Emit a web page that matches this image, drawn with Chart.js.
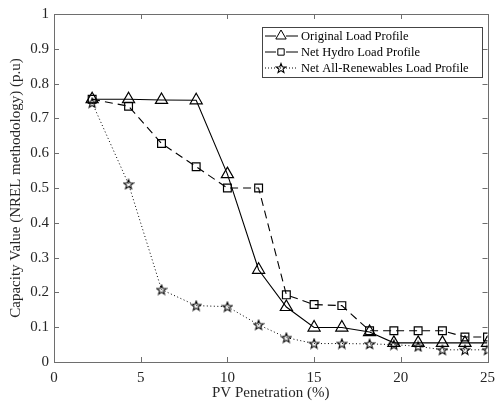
<!DOCTYPE html>
<html>
<head>
<meta charset="utf-8">
<script src="https://cdn.jsdelivr.net/npm/chart.js@4.4.1/dist/chart.umd.min.js"></script>
<style>
html, body { margin: 0; padding: 0; background: #fff; }
</style>
</head>
<body>
<canvas id="myChart" width="502" height="408"></canvas>
<script>
// PV penetration levels (%)
var penetration = [2.2, 4.3, 6.2, 8.2, 10, 11.8, 13.4, 15, 16.6, 18.2, 19.6, 21, 22.4, 23.7, 25];
// capacity values (p.u)
var originalLoad = [0.755, 0.755, 0.753, 0.752, 0.54, 0.265, 0.158, 0.099, 0.099, 0.086, 0.055, 0.055, 0.055, 0.055, 0.055];
var netHydro = [0.755, 0.735, 0.628, 0.561, 0.50, 0.50, 0.193, 0.165, 0.162, 0.09, 0.09, 0.09, 0.09, 0.072, 0.072];
var netAllRenew = [0.745, 0.511, 0.208, 0.162, 0.159, 0.107, 0.07, 0.053, 0.053, 0.052, 0.05, 0.045, 0.035, 0.035, 0.035];
var seriesNames = ['Original Load Profile', 'Net Hydro Load Profile', 'Net All-Renewables Load Profile'];
var xTicks = [0, 5, 10, 15, 20, 25];
var yTicks = [0, 0.1, 0.2, 0.3, 0.4, 0.5, 0.6, 0.7, 0.8, 0.9, 1];

Chart.defaults.font.family = "'Liberation Serif', 'DejaVu Serif', serif";
Chart.defaults.color = '#262626';

// five-pointed star marker
function makeStar(size) {
    var c = document.createElement('canvas');
    c.width = size; c.height = size;
    var g = c.getContext('2d');
    var cx = size / 2, cy = size / 2 + 0.5, ro = size / 2 - 1, ri = ro * 0.42;
    g.beginPath();
    for (var i = 0; i < 10; i++) {
        var r = i % 2 === 0 ? ro : ri;
        var a = -Math.PI / 2 + i * Math.PI / 5;
        var px = cx + r * Math.cos(a), py = cy + r * Math.sin(a);
        if (i === 0) g.moveTo(px, py); else g.lineTo(px, py);
    }
    g.closePath();
    g.strokeStyle = '#000';
    g.lineWidth = 1.1;
    g.stroke();
    return c;
}
var starImg = makeStar(12);

function pts(ys) {
    return penetration.map(function (x, i) { return {x: x, y: ys[i]}; });
}

function fmt(v) {
    return String(Math.round(v * 10) / 10);
}

// box, inward ticks and legend like the original figure
var frame = {
    id: 'frame',
    afterDatasetsDraw: function (chart) {
        var ctx = chart.ctx, a = chart.chartArea;
        var sx = chart.scales.x, sy = chart.scales.y;
        ctx.save();
        ctx.strokeStyle = '#6e6e6e';
        ctx.lineWidth = 1;
        ctx.beginPath();
        xTicks.forEach(function (v) {
            var p = Math.round(sx.getPixelForValue(v)) + 0.5;
            ctx.moveTo(p, a.bottom); ctx.lineTo(p, a.bottom - 5);
            ctx.moveTo(p, a.top); ctx.lineTo(p, a.top + 5);
        });
        yTicks.forEach(function (v) {
            var p = Math.round(sy.getPixelForValue(v)) + 0.5;
            ctx.moveTo(a.left, p); ctx.lineTo(a.left + 5, p);
            ctx.moveTo(a.right, p); ctx.lineTo(a.right - 5, p);
        });
        ctx.stroke();
        ctx.strokeRect(Math.round(a.left) + 0.5, Math.round(a.top) + 0.5,
            Math.round(a.right - a.left), Math.round(a.bottom - a.top));

        // legend
        var lx = 262.5, ly = 27.5, lw = 220, lh = 50;
        ctx.fillStyle = '#fff';
        ctx.fillRect(lx, ly, lw, lh);
        ctx.strokeStyle = '#444';
        ctx.strokeRect(lx, ly, lw, lh);
        chart.data.datasets.forEach(function (ds, i) {
            var y = 36 + i * 16;
            ctx.strokeStyle = '#000';
            ctx.lineWidth = 1;
            ctx.setLineDash(i === 2 ? [1, 2] : []);
            ctx.beginPath();
            ctx.moveTo(265, y); ctx.lineTo(298, y);
            ctx.stroke();
            ctx.setLineDash([]);
            if (i !== 2) {
                ctx.fillStyle = '#fff';
                ctx.fillRect(276, y - 5, 10, 10);
            }
            Chart.helpers.drawPoint(ctx, {
                pointStyle: ds.pointStyle, radius: i === 0 ? 6 : 4.5,
                rotation: 0, borderWidth: 1.2
            }, 281, y);
            ctx.fillStyle = '#000';
            ctx.font = "12.5px 'Liberation Serif', serif";
            ctx.textBaseline = 'middle';
            ctx.fillText(ds.label, 301, y + 0.5);
        });
        ctx.restore();
    }
};

var ctx = document.getElementById('myChart');
var myChart = new Chart(ctx, {
    type: 'scatter',
    data: {
        datasets: [{
            label: seriesNames[0],
            data: pts(originalLoad),
            showLine: true,
            borderColor: '#000',
            borderWidth: 1.1,
            pointStyle: 'triangle',
            pointRadius: 7,
            pointBorderWidth: 1.2,
            pointBorderColor: '#000',
            pointBackgroundColor: 'rgba(0,0,0,0)'
        }, {
            label: seriesNames[1],
            data: pts(netHydro),
            showLine: true,
            borderColor: '#000',
            borderWidth: 1.1,
            borderDash: [8, 5],
            pointStyle: 'rect',
            pointRadius: 5.5,
            pointBorderWidth: 1.2,
            pointBorderColor: '#000',
            pointBackgroundColor: 'rgba(0,0,0,0)'
        }, {
            label: seriesNames[2],
            data: pts(netAllRenew),
            showLine: true,
            borderColor: '#000',
            borderWidth: 1,
            borderDash: [1, 2.5],
            pointStyle: starImg,
            pointRadius: 6
        }]
    },
    options: {
        responsive: false,
        animation: false,
        layout: { padding: { top: 13, right: 7, bottom: 0, left: 0 } },
        plugins: {
            legend: { display: false },
            tooltip: { enabled: false }
        },
        scales: {
            x: {
                type: 'linear',
                min: 0,
                max: 25,
                afterFit: function (s) { s.height = 46; },
                afterBuildTicks: function (s) { s.ticks = xTicks.map(function (v) { return {value: v}; }); },
                grid: { display: false, drawTicks: false },
                border: { display: false },
                ticks: { padding: 7, font: { size: 15 }, callback: fmt },
                title: {
                    display: true,
                    text: 'PV Penetration (%)',
                    font: { size: 15 },
                    color: '#262626',
                    padding: { top: 0, bottom: 6 }
                }
            },
            y: {
                type: 'linear',
                min: 0,
                max: 1,
                afterFit: function (s) { s.width = 54; },
                afterBuildTicks: function (s) { s.ticks = yTicks.map(function (v) { return {value: v}; }); },
                grid: { display: false, drawTicks: false },
                border: { display: false },
                ticks: { padding: 5, font: { size: 15 }, callback: fmt },
                title: {
                    display: true,
                    text: 'Capacity Value (NREL methodology) (p.u)',
                    font: { size: 15 },
                    color: '#262626',
                    padding: { top: 7, bottom: 0 }
                }
            }
        }
    },
    plugins: [frame]
});
</script>
</body>
</html>
